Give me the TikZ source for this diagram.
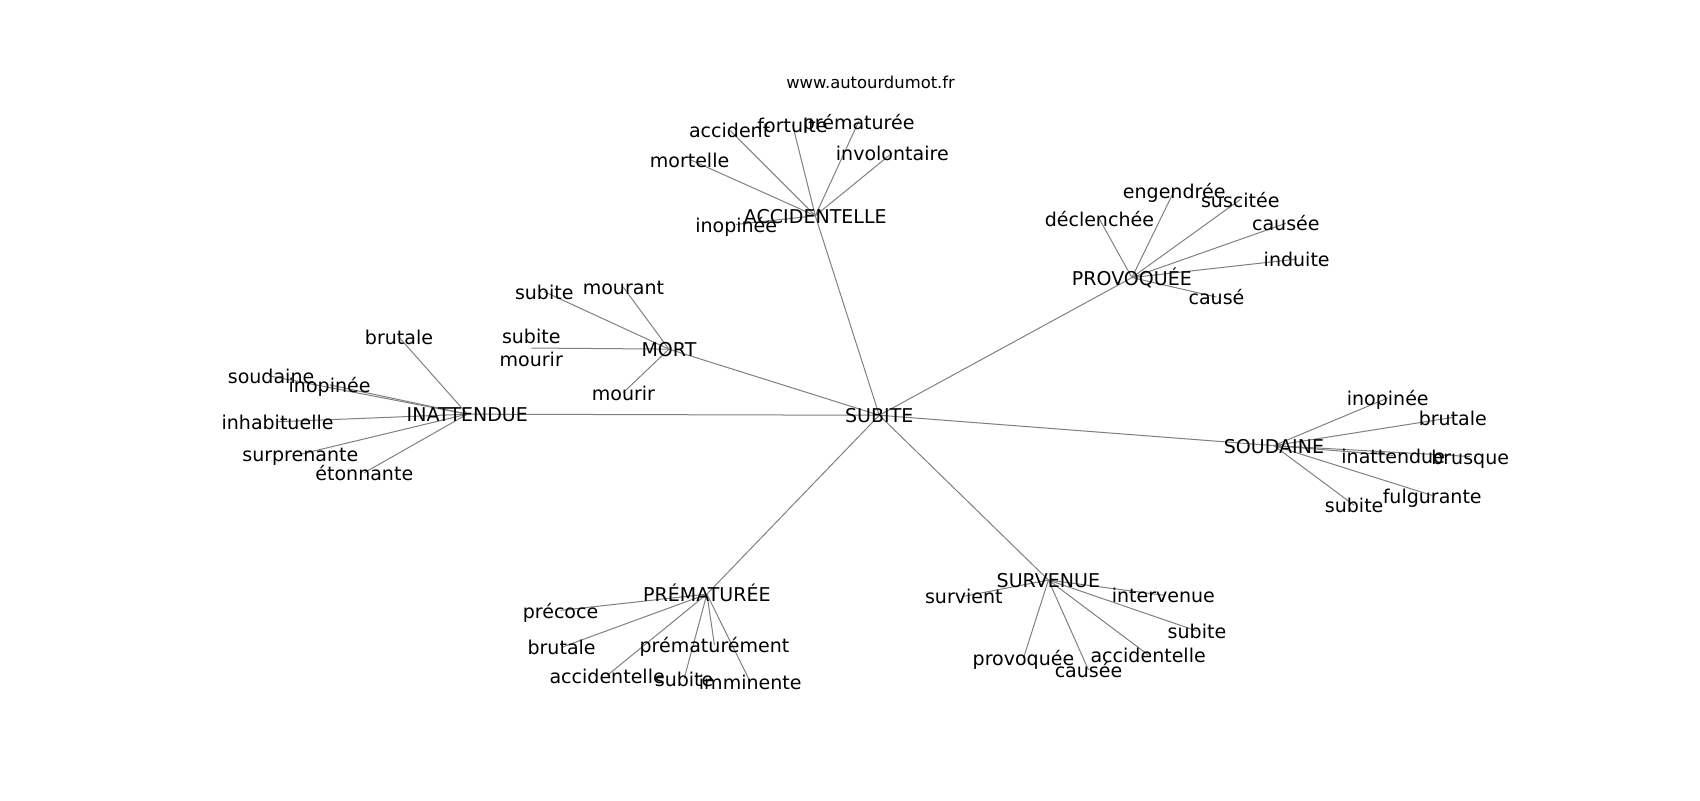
\documentclass[tikz,border=0pt]{standalone}
\usepackage{fontspec}
\setmainfont{DejaVu Sans}
\begin{document}
\begin{tikzpicture}[x=0.7806pt,y=-0.7806pt,
  edge/.style={draw=gray, line width=0.72pt},
  lbl/.style={font=\fontsize{13.7}{16.4}\selectfont, inner sep=0pt, text height=0.76em, text depth=0.24em, yshift=-2.9pt},
  lbl2/.style={font=\fontsize{13.7}{16.4}\selectfont, inner sep=0pt, align=center},
  ttl/.style={font=\fontsize{11.8}{14}\selectfont, inner sep=0pt, text height=0.76em, text depth=0.24em, yshift=-1.5pt}]
\useasboundingbox (0,0) rectangle (1568,738);
% hubs
\coordinate (S) at (811,383);
\coordinate (A) at (752,199);
\coordinate (P) at (1044,256);
\coordinate (SO) at (1175,411);
\coordinate (SU) at (967,535);
\coordinate (PR) at (652,548);
\coordinate (I) at (431,382);
\coordinate (M) at (617,322);
% ACCIDENTELLE leaves
\coordinate (a1) at (636,147);
\coordinate (a2) at (673,120);
\coordinate (a3) at (731,115);
\coordinate (a4) at (792,112);
\coordinate (a5) at (823,141);
\coordinate (a6) at (679,207);
% PROVOQUEE leaves
\coordinate (p1) at (1014,202);
\coordinate (p2) at (1083,176);
\coordinate (p3) at (1144,184);
\coordinate (p4) at (1186,206);
\coordinate (p5) at (1196,239);
\coordinate (p6) at (1122,274);
% SOUDAINE leaves
\coordinate (s1) at (1280,367);
\coordinate (s2) at (1340,385);
\coordinate (s3) at (1285,420);
\coordinate (s4) at (1356,421);
\coordinate (s5) at (1321,457);
\coordinate (s6) at (1249,466);
% SURVENUE leaves
\coordinate (u1) at (889,550);
\coordinate (u2) at (1073,549);
\coordinate (u3) at (1104,582);
\coordinate (u4) at (1059,604);
\coordinate (u5) at (1004,618);
\coordinate (u6) at (944,607);
% PREMATUREE leaves
\coordinate (r1) at (517,563);
\coordinate (r2) at (518,597);
\coordinate (r3) at (659,595);
\coordinate (r4) at (560,623);
\coordinate (r5) at (631,626);
\coordinate (r6) at (692,629);
% INATTENDUE leaves
\coordinate (i1) at (368,311);
\coordinate (i2) at (250,347);
\coordinate (i3) at (304,355);
\coordinate (i4) at (256,389);
\coordinate (i5) at (277,419);
\coordinate (i6) at (336,436);
% MORT leaves
\coordinate (m1) at (502,269);
\coordinate (m2) at (575,265);
\coordinate (m3) at (490,321);
\coordinate (m4) at (575,362);
% edges
\foreach \h in {A,P,SO,SU,PR,I,M} \draw[edge] (S) -- (\h);
\foreach \l in {a1,a2,a3,a4,a5,a6} \draw[edge] (A) -- (\l);
\foreach \l in {p1,p2,p3,p4,p5,p6} \draw[edge] (P) -- (\l);
\foreach \l in {s1,s2,s3,s4,s5,s6} \draw[edge] (SO) -- (\l);
\foreach \l in {u1,u2,u3,u4,u5,u6} \draw[edge] (SU) -- (\l);
\foreach \l in {r1,r2,r3,r4,r5,r6} \draw[edge] (PR) -- (\l);
\foreach \l in {i1,i2,i3,i4,i5,i6} \draw[edge] (I) -- (\l);
\foreach \l in {m1,m2,m3,m4} \draw[edge] (M) -- (\l);
% title
\node[ttl] (title) at (803,76) {www.autourdumot.fr};
% labels
\node[lbl] (nS) at (S) {SUBITE};
\node[lbl] (nA) at (A) {ACCIDENTELLE};
\node[lbl] (nP) at (P) {PROVOQUÉE};
\node[lbl] (nSO) at (SO) {SOUDAINE};
\node[lbl] (nSU) at (SU) {SURVENUE};
\node[lbl] (nPR) at (PR) {PRÉMATURÉE};
\node[lbl] (nI) at (I) {INATTENDUE};
\node[lbl] (nM) at (M) {MORT};
\node[lbl] (na1) at (a1) {mortelle};
\node[lbl] (na2) at (a2) {accident};
\node[lbl] (na3) at (a3) {fortuite};
\node[lbl] (na4) at (a4) {prématurée};
\node[lbl] (na5) at (a5) {involontaire};
\node[lbl] (na6) at (a6) {inopinée};
\node[lbl] (np1) at (p1) {déclenchée};
\node[lbl] (np2) at (p2) {engendrée};
\node[lbl] (np3) at (p3) {suscitée};
\node[lbl] (np4) at (p4) {causée};
\node[lbl] (np5) at (p5) {induite};
\node[lbl] (np6) at (p6) {causé};
\node[lbl] (ns1) at (s1) {inopinée};
\node[lbl] (ns2) at (s2) {brutale};
\node[lbl] (ns3) at (s3) {inattendue};
\node[lbl] (ns4) at (s4) {brusque};
\node[lbl] (ns5) at (s5) {fulgurante};
\node[lbl] (ns6) at (s6) {subite};
\node[lbl] (nu1) at (u1) {survient};
\node[lbl] (nu2) at (u2) {intervenue};
\node[lbl] (nu3) at (u3) {subite};
\node[lbl] (nu4) at (u4) {accidentelle};
\node[lbl] (nu5) at (u5) {causée};
\node[lbl] (nu6) at (u6) {provoquée};
\node[lbl] (nr1) at (r1) {précoce};
\node[lbl] (nr2) at (r2) {brutale};
\node[lbl] (nr3) at (r3) {prématurément};
\node[lbl] (nr4) at (r4) {accidentelle};
\node[lbl] (nr5) at (r5) {subite};
\node[lbl] (nr6) at (r6) {imminente};
\node[lbl] (ni1) at (i1) {brutale};
\node[lbl] (ni2) at (i2) {soudaine};
\node[lbl] (ni3) at (i3) {inopinée};
\node[lbl] (ni4) at (i4) {inhabituelle};
\node[lbl] (ni5) at (i5) {surprenante};
\node[lbl] (ni6) at (i6) {étonnante};
\node[lbl] (nm1) at (m1) {subite};
\node[lbl] (nm2) at (m2) {mourant};
\node[lbl2] (nm3) at (m3) {subite\\mourir};
\node[lbl] (nm4) at (m4) {mourir};
\end{tikzpicture}
\end{document}
